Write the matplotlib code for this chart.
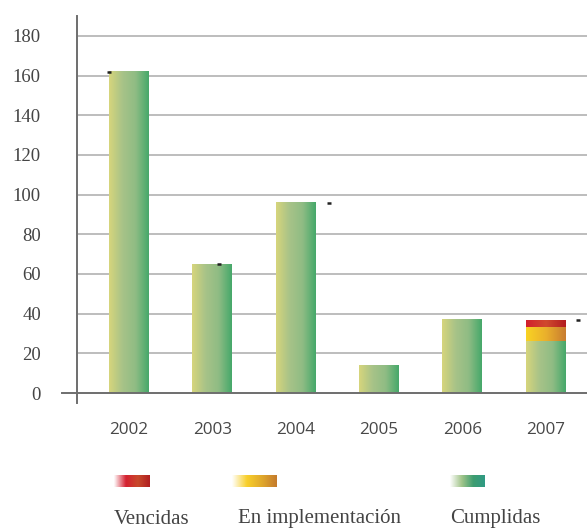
import numpy as np
import matplotlib
matplotlib.use("Agg")
import matplotlib.pyplot as plt
from matplotlib.colors import LinearSegmentedColormap

# ---- data ----
years = ["2002", "2003", "2004", "2005", "2006", "2007"]
cumplidas = [162, 65, 96, 14, 37, 26]
en_implementacion = [0, 0, 0, 0, 0, 7.5]
vencidas = [0, 0, 0, 0, 0, 3.5]
legend_labels = ["Vencidas", "En implementación", "Cumplidas"]
yticks = [0, 20, 40, 60, 80, 100, 120, 140, 160, 180]
# small stray marks in the original (x offset in category units, value)
marks_x = [-0.24, 1.08, 2.4, 5.39]
marks_y = [162, 65, 96, 37]

W, H = 587, 530
fig = plt.figure(figsize=(W / 100, H / 100), dpi=100)
ax = fig.add_axes([77 / W, (H - 403) / H, 1 - 77 / W, (403 - 16) / H])

cm_green = LinearSegmentedColormap.from_list("g", ["#d7d57c", "#a8c388", "#8fbc84", "#45a86a"])
cm_yellow = LinearSegmentedColormap.from_list("y", ["#f9d323", "#eab02c", "#c87c30"])
cm_red = LinearSegmentedColormap.from_list("r", ["#d21f2d", "#d04a2e", "#b21b21"])
grad = np.linspace(0, 1, 256).reshape(1, -1)

x = np.arange(len(years))
width = 0.48
bottoms2 = np.array(cumplidas, dtype=float)
bottoms3 = bottoms2 + np.array(en_implementacion)
series = [
    (cumplidas, np.zeros(len(years)), cm_green),
    (en_implementacion, bottoms2, cm_yellow),
    (vencidas, bottoms3, cm_red),
]
for vals, bots, cm in series:
    bars = ax.bar(x, vals, width, bottom=bots, color="none", edgecolor="none", zorder=3)
    for b in bars:
        if b.get_height() <= 0:
            continue
        x0, y0 = b.get_x(), b.get_y()
        ax.imshow(grad, cmap=cm, aspect="auto", extent=(x0, x0 + b.get_width(), y0, y0 + b.get_height()),
                  zorder=3, interpolation="bicubic")

ax.plot(marks_x, marks_y, linestyle="none", marker="_", color="#222222", markersize=3, mew=1.8, zorder=4)

xmin = (77 - 129) / 83.3
xmax = (587 - 129) / 83.3
ax.set_xlim(xmin, xmax)
ax.set_ylim(-5, 190)

for v in yticks[1:]:
    ax.axhline(v, color="#b8b8b8", lw=1.3, zorder=1)
ax.plot([(62 - 129) / 83.3, xmax], [0, 0], color="#6e6e6e", lw=1.4, clip_on=False, zorder=5)

for s in ["top", "right", "bottom"]:
    ax.spines[s].set_visible(False)
ax.spines["left"].set_color("#6e6e6e")
ax.spines["left"].set_linewidth(1.4)

ax.set_yticks(yticks)
ax.set_yticklabels([str(v) for v in yticks], family="Liberation Serif", fontsize=13.5, color="#444444")
ax.tick_params(axis="y", length=0, pad=26)
ax.set_xticks(x)
ax.set_xticklabels(years, family="Open Sans", fontsize=12.3, color="#484848")
ax.tick_params(axis="x", length=0, pad=14)

# ---- legend ----
lax = fig.add_axes([0, 0, 1, 1])
lax.set_xlim(0, W)
lax.set_ylim(H, 0)
lax.axis("off")
leg_cms = [
    LinearSegmentedColormap.from_list("lr", ["#ffffff", "#d42030", "#c84a2c", "#b01e20"]),
    LinearSegmentedColormap.from_list("ly", ["#ffffff", "#f8cf2a", "#e0a82c", "#c47a2c"]),
    LinearSegmentedColormap.from_list("lg", ["#ffffff", "#a2c58a", "#3e9d70", "#2f9a84"]),
]
patch_x = [(114, 150), (232, 277), (450, 485)]
text_x = [114, 238, 450]
for (px0, px1), cm, tx, lab in zip(patch_x, leg_cms, text_x, legend_labels):
    lax.imshow(grad, cmap=cm, aspect="auto", extent=(px0, px1, 487, 475), interpolation="bicubic")
    lax.text(tx, 523.5, lab, family="Liberation Serif", fontsize=15, color="#444444", va="baseline", ha="left")
lax.set_xlim(0, W)
lax.set_ylim(H, 0)

fig.savefig("out.png", dpi=100)
